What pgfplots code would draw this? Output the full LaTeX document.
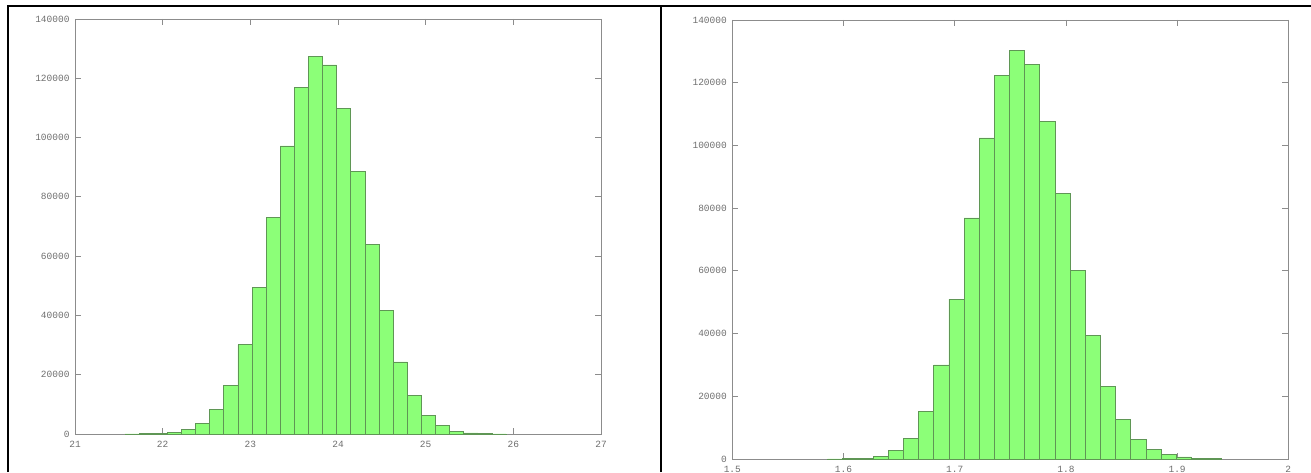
\documentclass[border=0pt]{standalone}
\usepackage{fontspec}
\setmonofont{Liberation Mono}
\usepackage{pgfplots}
\pgfplotsset{compat=1.18}
\definecolor{barfill}{RGB}{140,255,120}
\definecolor{baredge}{RGB}{95,150,85}
\definecolor{axgray}{RGB}{140,140,140}
\definecolor{lblgray}{RGB}{110,110,110}
\pgfplotsset{
  hist/.style={
    scale only axis,
    anchor=south west,
    ymin=0, ymax=140000,
    ytick={0,20000,40000,60000,80000,100000,120000,140000},
    yticklabels={0,20000,40000,60000,80000,100000,120000,140000},
    scaled y ticks=false,
    scaled x ticks=false,
    axis line style={axgray, line width=0.8pt},
    every tick/.style={axgray, line width=0.8pt},
    major tick length=6pt,
    tick align=inside,
    xtick pos=both, ytick pos=both,
    tick label style={font=\fontsize{9.5}{10}\selectfont\ttfamily, text=lblgray},
    yticklabel style={xshift=-2pt},
    xticklabel style={yshift=-4pt},
  }
}
\begin{document}
\begin{tikzpicture}[x=1pt,y=1pt]
\useasboundingbox (0,0) rectangle (1311,472);
% frame
\draw[black, line width=2.5pt] (8,0) -- (8,466) -- (1311,466);
\draw[black, line width=2.5pt] (661,0) -- (661,466);
\begin{axis}[hist, at={(75pt,38pt)}, width=526pt, height=415pt,
  xmin=21, xmax=27, xtick={21,22,23,24,25,26,27},
  xticklabels={21,22,23,24,25,26,27}]
\addplot[ybar interval, fill=barfill, draw=baredge, line width=0.7pt] coordinates {
(21.570,30) (21.731,80) (21.892,200) (22.053,600) (22.214,1550) (22.375,3700)
(22.536,8200) (22.697,16500) (22.858,30100) (23.019,49500) (23.180,73000)
(23.341,97200) (23.502,117000) (23.663,127300) (23.824,124500) (23.985,109900)
(24.146,88500) (24.307,64000) (24.468,41800) (24.629,24300) (24.790,12900)
(24.951,6200) (25.112,2800) (25.273,1000) (25.434,350) (25.595,150)
(25.756,50) (25.917,0)
};
\end{axis}
\begin{axis}[hist, at={(732.3pt,13pt)}, width=556pt, height=439pt,
  xmin=1.5, xmax=2, xtick={1.5,1.6,1.7,1.8,1.9,2.0},
  xticklabels={1.5,1.6,1.7,1.8,1.9,2}]
\addplot[ybar interval, fill=barfill, draw=baredge, line width=0.7pt] coordinates {
(1.58574,30) (1.59937,80) (1.61300,200) (1.62663,860) (1.64026,2800)
(1.65389,6600) (1.66752,15200) (1.68115,30000) (1.69478,51000) (1.70841,76900)
(1.72204,102400) (1.73567,122300) (1.74930,130300) (1.76293,125800)
(1.77656,107600) (1.79019,84800) (1.80382,60200) (1.81745,39400)
(1.83108,23100) (1.84471,12700) (1.85834,6300) (1.87197,3100) (1.88560,1400)
(1.89923,640) (1.91286,200) (1.92649,80) (1.94012,0)
};
\end{axis}
\end{tikzpicture}
\end{document}
